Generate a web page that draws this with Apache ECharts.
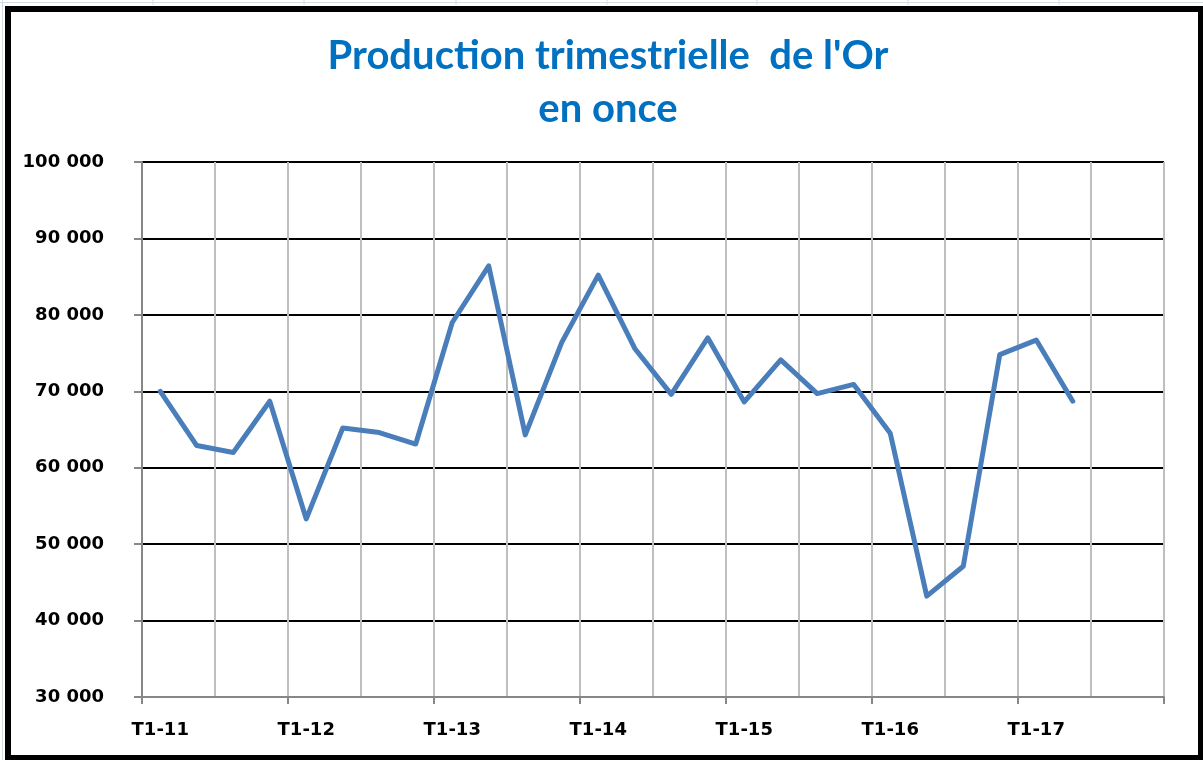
<!DOCTYPE html>
<html>
<head>
<meta charset="utf-8">
<script src="https://cdn.jsdelivr.net/npm/echarts@6/dist/echarts.min.js"></script>
<style>
	html, body { margin: 0; padding: 0; background: #fff; }
	#chart { width: 1203px; height: 760px; }
</style>
</head>
<body>
<div id="chart"></div>
<script>
// trimestres T1-11 .. T4-17
var years = ['11', '12', '13', '14', '15', '16', '17'];
var quarters = [];
for (var y = 0; y < years.length; y++) {
	for (var q = 1; q <= 4; q++) {
		quarters.push('T' + q + '-' + years[y]);
	}
}

// production en once
var production = [70000, 62900, 62000, 68700, 53300, 65200, 64600, 63100,
	79000, 86400, 64300, 76400, 85200, 75600, 69600, 77000,
	68600, 74100, 69700, 70900, 64500, 43200, 47100, 74800,
	76700, 68700];

var yTicks = [30000, 40000, 50000, 60000, 70000, 80000, 90000, 100000];

var chartTitle = "Production trimestrielle  de l'Or\nen once";

function fmt(v) {
	return String(v).replace(/\B(?=(\d{3})+(?!\d))/g, ' ');
}

var myChart = echarts.init(document.getElementById('chart'));

// petite grille du tableur autour du cadre
var sheetLines = [];
[153, 304, 456, 607, 757, 908, 1059].forEach(function (x) {
	sheetLines.push({ type: 'line', shape: { x1: x, y1: 0, x2: x, y2: 5 }, style: { stroke: '#D4DAE6', lineWidth: 1 } });
});
sheetLines.push({ type: 'line', shape: { x1: 0, y1: 2.5, x2: 1203, y2: 2.5 }, style: { stroke: '#D4DAE6', lineWidth: 1 } });
sheetLines.push({ type: 'line', shape: { x1: 2.5, y1: 0, x2: 2.5, y2: 760 }, style: { stroke: '#D4DAE6', lineWidth: 1 } });

var option = {
	backgroundColor: '#ffffff',
	animation: false,
	title: {
		text: chartTitle,
		left: 603,
		textAlign: 'center',
		top: 25,
		textStyle: {
			color: '#0070C0',
			fontFamily: 'Lato',
			fontWeight: 'bold',
			fontSize: 40,
			lineHeight: 53
		}
	},
	grid: {
		left: 142,
		right: 39,
		top: 162,
		bottom: 63
	},
	xAxis: {
		type: 'category',
		data: quarters,
		boundaryGap: true,
		axisLine: { show: true, lineStyle: { color: '#878787', width: 2 } },
		axisTick: { show: true, interval: 3, length: 7, lineStyle: { color: '#878787', width: 2 } },
		axisLabel: {
			interval: 3,
			margin: 24,
			color: '#000',
			fontFamily: 'DejaVu Sans',
			fontWeight: 'bold',
			fontSize: 18
		},
		splitLine: { show: true, interval: 1, lineStyle: { color: '#BFBFBF', width: 2 } }
	},
	yAxis: {
		type: 'value',
		min: yTicks[0],
		max: yTicks[yTicks.length - 1],
		interval: 10000,
		axisLine: { show: true, lineStyle: { color: '#878787', width: 2 } },
		axisTick: { show: true, length: 8, lineStyle: { color: '#878787', width: 2 } },
		axisLabel: {
			margin: 38,
			color: '#000',
			fontFamily: 'DejaVu Sans',
			fontWeight: 'bold',
			fontSize: 18,
			formatter: function (v) { return fmt(v); }
		},
		splitLine: { show: true, lineStyle: { color: '#000', width: 2 } }
	},
	series: [{
		type: 'line',
		data: production,
		symbol: 'none',
		lineStyle: { color: '#4A7EBB', width: 5, join: 'round', cap: 'round' },
		z: 5
	}],
	graphic: sheetLines.concat([{
		type: 'rect',
		shape: { x: 8, y: 9, width: 1193, height: 749 },
		style: { fill: 'none', stroke: '#000', lineWidth: 6 },
		z: 100
	}])
};

myChart.setOption(option);
</script>
</body>
</html>
